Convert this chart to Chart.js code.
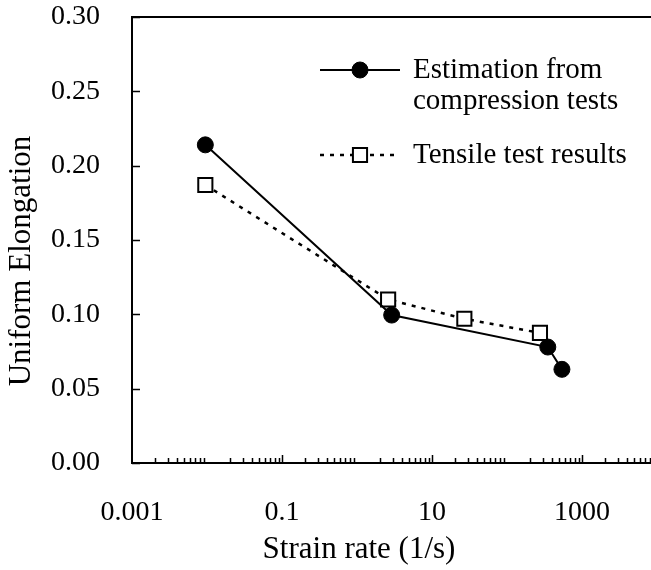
<!DOCTYPE html>
<html>
<head>
<meta charset="utf-8">
<script src="https://cdn.jsdelivr.net/npm/chart.js@4.4.0/dist/chart.umd.min.js"></script>
<style>
  html, body { margin: 0; padding: 0; background: #fff; overflow: hidden; }
  #wrap { width: 651px; height: 570px; overflow: hidden; }
</style>
</head>
<body>
<div id="wrap"><canvas id="myChart" width="669" height="570"></canvas></div>
<script>
// values
const compressionRate = [0.0095, 2.9, 350, 540];
const compressionElong = [0.214, 0.0995, 0.078, 0.063];
const tensileRate = [0.0095, 2.6, 27, 275];
const tensileElong = [0.187, 0.110, 0.097, 0.0875];
const seriesNames = [["Estimation from", "compression tests"], ["Tensile test results"]];
const xTitle = 'Strain rate (1/s)';
const yTitle = 'Uniform Elongation';
const xLabelTicks = [0.001, 0.1, 10, 1000];
const yTicks = [0, 0.05, 0.10, 0.15, 0.20, 0.25, 0.30];

const serif = "'Liberation Serif', 'Times New Roman', serif";

function toPoints(xs, ys) {
    return xs.map((x, i) => ({ x: x, y: ys[i] }));
}

function isMajor(v) {
    return xLabelTicks.some(m => Math.abs(v - m) < m * 1e-6);
}

// minor ticks 2..9 in every decade, labelled ticks every two decades
function buildXTicks() {
    let list = [];
    for (let e = -3; e <= 3; e++) {
        let base = Math.pow(10, e);
        if (isMajor(base)) list.push(base);
        for (let k = 2; k <= 9; k++) list.push(k * base);
    }
    return list;
}

// inward tick marks, top frame line and the two axis titles
const frame = {
    id: 'frame',
    afterDraw(chart) {
        const { ctx, chartArea, scales } = chart;
        ctx.save();
        ctx.strokeStyle = '#000';
        ctx.lineWidth = 2;
        ctx.beginPath();
        ctx.moveTo(chartArea.left - 1, chartArea.top);
        ctx.lineTo(chartArea.right, chartArea.top);
        ctx.stroke();

        ctx.lineWidth = 1.5;
        ctx.beginPath();
        scales.y.ticks.forEach(t => {
            let py = Math.round(scales.y.getPixelForValue(t.value)) + 0.5;
            ctx.moveTo(chartArea.left, py);
            ctx.lineTo(chartArea.left + 8, py);
        });
        scales.x.ticks.forEach(t => {
            if (t.value <= scales.x.min) return;
            let px = Math.round(scales.x.getPixelForValue(t.value)) + 0.5;
            let len = isMajor(t.value) ? 8 : 5;
            ctx.moveTo(px, chartArea.bottom);
            ctx.lineTo(px, chartArea.bottom - len);
        });
        ctx.stroke();

        ctx.fillStyle = '#000';
        ctx.font = '31px ' + serif;
        ctx.textAlign = 'center';
        ctx.textBaseline = 'middle';
        ctx.fillText(xTitle, chartArea.left + 227, chartArea.bottom + 87);
        ctx.translate(22, chartArea.top + 244);
        ctx.rotate(-Math.PI / 2);
        ctx.fillText(yTitle, 0, 0);
        ctx.restore();
    }
};

// legend drawn inside the plot, line + marker + text
const insideLegend = {
    id: 'insideLegend',
    afterDraw(chart) {
        const { ctx, chartArea } = chart;
        const rows = [
            { mark: 53, lines: [61, 92] },
            { mark: 138, lines: [146] }
        ];
        ctx.save();
        chart.data.datasets.forEach((ds, i) => {
            let y = chartArea.top + rows[i].mark;
            let x0 = chartArea.left + 188, x1 = chartArea.left + 268, xm = chartArea.left + 228;
            ctx.strokeStyle = ds.borderColor;
            ctx.lineWidth = ds.borderWidth;
            ctx.setLineDash(ds.borderDash || []);
            ctx.beginPath();
            ctx.moveTo(x0, y);
            ctx.lineTo(x1, y);
            ctx.stroke();
            ctx.setLineDash([]);

            ctx.fillStyle = ds.pointBackgroundColor;
            ctx.strokeStyle = ds.pointBorderColor;
            ctx.lineWidth = ds.pointBorderWidth;
            ctx.beginPath();
            if (ds.pointStyle === 'circle') {
                ctx.arc(xm, y, ds.pointRadius, 0, Math.PI * 2);
            } else {
                let h = ds.pointRadius * Math.SQRT1_2;
                ctx.rect(xm - h, y - h, 2 * h, 2 * h);
            }
            ctx.fill();
            ctx.stroke();

            ctx.fillStyle = '#000';
            ctx.font = '29px ' + serif;
            ctx.textBaseline = 'alphabetic';
            ctx.textAlign = 'left';
            seriesNames[i].forEach((txt, j) => {
                ctx.fillText(txt, chartArea.left + 281, chartArea.top + rows[i].lines[j]);
            });
        });
        ctx.restore();
    }
};

new Chart(document.getElementById('myChart'), {
    type: 'scatter',
    data: {
        datasets: [{
            label: seriesNames[0].join(' '),
            data: toPoints(compressionRate, compressionElong),
            showLine: true,
            borderColor: '#000',
            borderWidth: 2,
            pointStyle: 'circle',
            pointRadius: 8,
            pointBackgroundColor: '#000',
            pointBorderColor: '#000',
            pointBorderWidth: 1
        }, {
            label: seriesNames[1][0],
            data: toPoints(tensileRate, tensileElong),
            showLine: true,
            borderColor: '#000',
            borderWidth: 2.5,
            borderDash: [4, 6],
            pointStyle: 'rect',
            pointRadius: 10,
            pointBackgroundColor: '#fff',
            pointBorderColor: '#000',
            pointBorderWidth: 2
        }]
    },
    options: {
        responsive: false,
        animation: false,
        layout: { padding: { left: 0, top: 17, right: 3, bottom: 0 } },
        plugins: { legend: { display: false }, tooltip: { enabled: false } },
        scales: {
            x: {
                type: 'logarithmic',
                min: 0.001,
                max: 10000,
                afterBuildTicks: s => { s.ticks = buildXTicks().map(v => ({ value: v })); },
                afterFit: s => { s.height = 107; s.paddingLeft = 0; s.paddingRight = 0; },
                grid: { display: false, drawTicks: false },
                border: { display: true, color: '#000', width: 2 },
                ticks: {
                    autoSkip: false, maxRotation: 0, minRotation: 0, padding: 33,
                    color: '#000', font: { family: serif, size: 28 },
                    callback: v => isMajor(v) ? String(v) : ''
                }
            },
            y: {
                min: 0,
                max: 0.3,
                afterBuildTicks: s => { s.ticks = yTicks.map(v => ({ value: v })); },
                afterFit: s => { s.width = 132; s.paddingTop = 0; s.paddingBottom = 0; },
                grid: { display: false, drawTicks: false },
                border: { display: true, color: '#000', width: 2 },
                ticks: {
                    padding: 32, color: '#000', font: { family: serif, size: 28 },
                    callback: v => v.toFixed(2)
                }
            }
        }
    },
    plugins: [frame, insideLegend]
});
</script>
</body>
</html>
